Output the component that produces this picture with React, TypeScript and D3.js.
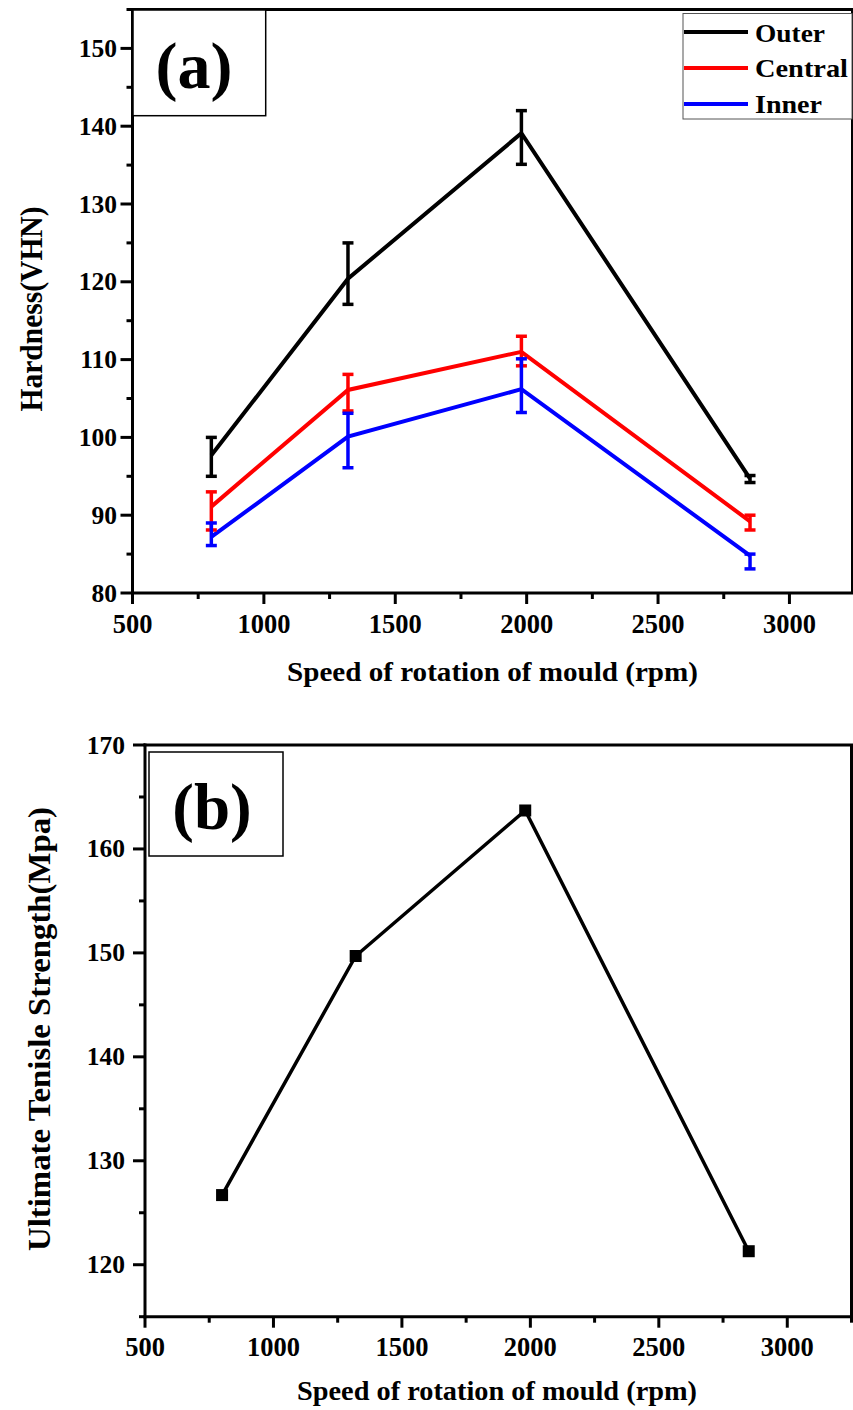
import React from "react";
import * as d3 from "d3";

const speeds = [800, 1320, 1980, 2850];

const seriesNames = ["Outer", "Central", "Inner"];
const seriesColors = ["#000000", "#ff0000", "#0000ff"];
const outerHardness = [97.7, 120.4, 139.1, 94.7];
const outerUpper = [100, 125, 142, 95.1];
const outerLower = [95, 117.1, 135.1, 94.2];
const centralHardness = [91.1, 106.1, 111, 89.2];
const centralUpper = [93, 108.1, 113, 90];
const centralLower = [88.1, 103.4, 109.2, 88.1];
const innerHardness = [87.2, 100.1, 106.2, 84.8];
const innerUpper = [89, 103.1, 110.1, 85];
const innerLower = [86.1, 96.1, 103.2, 83.1];

const uts = [126.7, 149.7, 163.7, 121.3];

const xTicks = [500, 1000, 1500, 2000, 2500, 3000];
const hardnessTicks = [80, 90, 100, 110, 120, 130, 140, 150];
const utsTicks = [120, 130, 140, 150, 160, 170];

const FONT = "'Liberation Serif', 'Times New Roman', Times, serif";

const series = [
  { name: seriesNames[0], color: seriesColors[0], v: outerHardness, hi: outerUpper, lo: outerLower },
  { name: seriesNames[1], color: seriesColors[1], v: centralHardness, hi: centralUpper, lo: centralLower },
  { name: seriesNames[2], color: seriesColors[2], v: innerHardness, hi: innerUpper, lo: innerLower },
];

function Axes({ x, y, xMinor, yMinor, xLabelDy }: any) {
  const [x0, x1] = x.range();
  const [y0, y1] = y.range();
  const els: any[] = [];
  xMinor.forEach((t: number, i: number) => {
    const major = xTicks.includes(t);
    els.push(
      <line key={"xt" + i} x1={x(t)} x2={x(t)} y1={y0} y2={y0 + (major ? 11 : 6)} stroke="#000" strokeWidth={3} />
    );
  });
  yMinor.forEach((t: number, i: number) => {
    const major = (t % 10) === 0;
    els.push(
      <line key={"yt" + i} x1={x0} x2={x0 - (major ? 12 : 6)} y1={y(t)} y2={y(t)} stroke="#000" strokeWidth={3} />
    );
  });
  return (
    <g>
      {els}
      <line x1={x0 - 1.5} x2={x1 + 1.5} y1={y0} y2={y0} stroke="#000" strokeWidth={3} />
      <line x1={x0} x2={x0} y1={y0 + 1.5} y2={y1 - 1.5} stroke="#000" strokeWidth={3} />
      <line x1={x0 - 1.5} x2={x1 + 1.5} y1={y1} y2={y1} stroke="#000" strokeWidth={3} />
      <line x1={x1} x2={x1} y1={y0} y2={y1} stroke="#000" strokeWidth={3} />
      {xTicks.map((t) => (
        <text key={"xl" + t} x={x(t)} y={y0 + xLabelDy} textAnchor="middle" fontFamily={FONT} fontWeight="bold" fontSize={26.5}>
          {t}
        </text>
      ))}
    </g>
  );
}

export default function App() {
  // Panel (a)
  const xa = d3.scaleLinear().domain([500, 3240]).range([132.5, 852.5]);
  const ya = d3.scaleLinear().domain([80, 155]).range([593, 9.5]);
  const xMinorA = d3.range(500, 3241, 250);
  const yMinorA = d3.range(80, 156, 5);

  // Panel (b)
  const xb = d3.scaleLinear().domain([500, 3250]).range([145, 851.5]);
  const yb = d3.scaleLinear().domain([115, 170]).range([1316.7, 745]);
  const xMinorB = d3.range(500, 3251, 250);
  const yMinorB = d3.range(115, 171, 5);

  const line = (xs: any, ys: any, vals: number[]) =>
    d3.line<number>().x((_, i) => xs(speeds[i])).y((d) => ys(d))(vals) as string;

  const cap = 5.5;

  return (
    <svg width={853} height={1410} style={{ position: "absolute", left: 0, top: 0, background: "#fff" }}>
      <rect x={0} y={0} width={853} height={1410} fill="#fff" />
      {/* ---------- Panel (a) ---------- */}
      <g>
        {series.map((s) => (
          <path key={s.name} d={line(xa, ya, s.v)} fill="none" stroke={s.color} strokeWidth={4} strokeLinejoin="miter" />
        ))}
        {series.map((s) => (
          <g key={"eb" + s.name}>
            {speeds.map((sp, i) => (
              <g key={i}>
                <line x1={xa(sp)} x2={xa(sp)} y1={ya(s.hi[i])} y2={ya(s.lo[i])} stroke={s.color} strokeWidth={3.5} />
                <line x1={xa(sp) - cap} x2={xa(sp) + cap} y1={ya(s.hi[i])} y2={ya(s.hi[i])} stroke={s.color} strokeWidth={3.5} />
                <line x1={xa(sp) - cap} x2={xa(sp) + cap} y1={ya(s.lo[i])} y2={ya(s.lo[i])} stroke={s.color} strokeWidth={3.5} />
              </g>
            ))}
          </g>
        ))}
        <Axes x={xa} y={ya} xMinor={xMinorA} yMinor={yMinorA} xLabelDy={40} />
        {hardnessTicks.map((t) => (
          <text key={"ya" + t} x={117} y={ya(t) + 8.5} textAnchor="end" fontFamily={FONT} fontWeight="bold" fontSize={25.5}>
            {t}
          </text>
        ))}
        {/* label box */}
        <rect x={133} y={10} width={132.7} height={105.7} fill="#fff" stroke="#000" strokeWidth={1.5} />
        <text x={194} y={88} textAnchor="middle" fontFamily={FONT} fontWeight="bold" fontSize={66}>(a)</text>
        {/* legend */}
        <rect x={683} y={13.5} width={169} height={105.5} fill="#fff" stroke="#555" strokeWidth={1} />
        {series.map((s, i) => (
          <g key={"lg" + s.name}>
            <line x1={684} x2={748} y1={32 + i * 36} y2={32 + i * 36} stroke={s.color} strokeWidth={4} />
            <text x={755} y={41.5 + i * 35.8} fontFamily={FONT} fontWeight="bold" fontSize={25}
              textLength={[70, 93, 67][i]} lengthAdjust="spacingAndGlyphs">
              {s.name}
            </text>
          </g>
        ))}
        <text x={492.5} y={681} textAnchor="middle" fontFamily={FONT} fontWeight="bold" fontSize={27}
          textLength={411} lengthAdjust="spacingAndGlyphs">
          Speed of rotation of mould (rpm)
        </text>
        <text transform="translate(41.5,309) rotate(-90)" textAnchor="middle" fontFamily={FONT} fontWeight="bold" fontSize={31}
          textLength={205} lengthAdjust="spacingAndGlyphs">
          Hardness(VHN)
        </text>
      </g>

      {/* ---------- Panel (b) ---------- */}
      <g>
        <path d={line(xb, yb, uts)} fill="none" stroke="#000" strokeWidth={3.5} />
        {uts.map((v, i) => (
          <rect key={"sq" + i} x={xb(speeds[i]) - 6} y={yb(v) - 6} width={12} height={12} fill="#000" />
        ))}
        <Axes x={xb} y={yb} xMinor={xMinorB} yMinor={yMinorB} xLabelDy={39.5} />
        {utsTicks.map((t) => (
          <text key={"yb" + t} x={125} y={yb(t) + 8.5} textAnchor="end" fontFamily={FONT} fontWeight="bold" fontSize={25.5}>
            {t}
          </text>
        ))}
        <rect x={149} y={752} width={134} height={104} fill="#fff" stroke="#000" strokeWidth={1.5} />
        <text x={212} y={828.5} textAnchor="middle" fontFamily={FONT} fontWeight="bold" fontSize={65}>(b)</text>
        <text x={497} y={1400} textAnchor="middle" fontFamily={FONT} fontWeight="bold" fontSize={27}
          textLength={400} lengthAdjust="spacingAndGlyphs">
          Speed of rotation of mould (rpm)
        </text>
        <text transform="translate(50,1029) rotate(-90)" textAnchor="middle" fontFamily={FONT} fontWeight="bold" fontSize={31}
          textLength={444} lengthAdjust="spacingAndGlyphs">
          Ultimate Tenisle Strength(Mpa)
        </text>
      </g>
    </svg>
  );
}
